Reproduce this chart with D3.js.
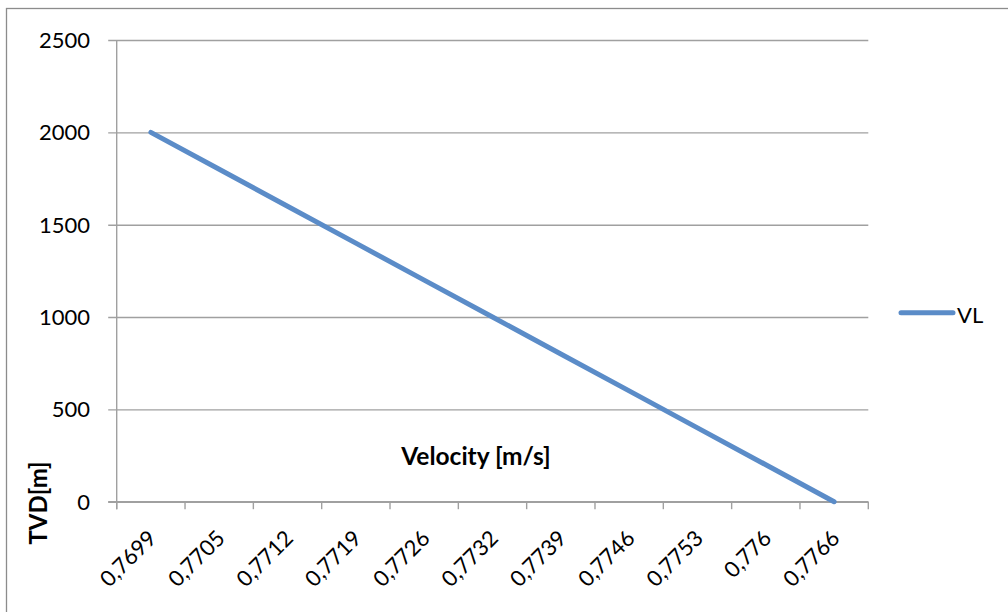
<!DOCTYPE html>
<html>
<head>
<meta charset="utf-8">
<script src="https://cdn.jsdelivr.net/npm/d3@7"></script>
<style>
  html, body { margin: 0; padding: 0; background: #ffffff; }
  svg { display: block; }
  text { font-family: Lato, "Open Sans", sans-serif; fill: #000; }
</style>
</head>
<body>
<svg id="chart" width="1008" height="612"></svg>
<script>
// Velocity categories (m/s) along the horizontal axis
const categories = ["0,7699", "0,7705", "0,7712", "0,7719", "0,7726", "0,7732",
                    "0,7739", "0,7746", "0,7753", "0,776", "0,7766"];
// True vertical depth for each velocity step
const tvd = [2000, 1800, 1600, 1400, 1200, 1000, 800, 600, 400, 200, 0];
// Value axis ticks
const yTicks = [0, 500, 1000, 1500, 2000, 2500];
const seriesName = "VL";
const xTitle = "Velocity [m/s]";
const yTitle = "TVD[m]";

const W = 1008, H = 612;
const plot = { left: 116.7, right: 868.3, top: 40, bottom: 501.7 };
const gridColor = "#a0a0a0";
const lineColor = "#5b8cc8";

const svg = d3.select("#chart");

// outer chart frame (extends past the right and bottom edges)
svg.append("rect")
  .attr("x", 6.5).attr("y", 8.5)
  .attr("width", W + 20).attr("height", H + 20)
  .attr("fill", "#fff")
  .attr("stroke", "#8c8c8c").attr("stroke-width", 1.3);

const x = d3.scaleBand().domain(categories).range([plot.left, plot.right]);
const y = d3.scaleLinear().domain([0, 2500]).range([plot.bottom, plot.top]);

// horizontal gridlines + left ticks
const yAxis = d3.axisLeft(y)
  .tickValues(yTicks)
  .tickSize(-(plot.right - plot.left))
  .tickPadding(0)
  .tickFormat("");
const gy = svg.append("g")
  .attr("transform", `translate(${plot.left},0)`)
  .call(yAxis);
gy.select(".domain").remove();
gy.selectAll(".tick line")
  .attr("x1", -8.5)
  .attr("stroke", gridColor).attr("stroke-width", 1.4);

// value axis labels
svg.append("g").selectAll("text")
  .data(yTicks)
  .join("text")
  .attr("x", 90)
  .attr("y", d => y(d))
  .attr("dy", "0.36em")
  .attr("text-anchor", "end")
  .style("font-size", "22px")
  .text(d => d);

// vertical axis line
svg.append("line")
  .attr("x1", plot.left).attr("x2", plot.left)
  .attr("y1", y(2500)).attr("y2", plot.bottom + 7.5)
  .attr("stroke", gridColor).attr("stroke-width", 1.4);

// category axis: ticks sit between categories
const bounds = categories.map(c => x(c)).concat([plot.right]);
const gx = svg.append("g");
gx.append("line")
  .attr("x1", plot.left - 8.5).attr("x2", plot.right)
  .attr("y1", plot.bottom).attr("y2", plot.bottom)
  .attr("stroke", gridColor).attr("stroke-width", 1.4);
gx.selectAll("line.tk")
  .data(bounds)
  .join("line")
  .attr("class", "tk")
  .attr("x1", d => d).attr("x2", d => d)
  .attr("y1", plot.bottom).attr("y2", plot.bottom + 7.5)
  .attr("stroke", gridColor).attr("stroke-width", 1.4);

// rotated category labels
gx.selectAll("text")
  .data(categories)
  .join("text")
  .attr("text-anchor", "end")
  .attr("transform", d => `translate(${x(d) + x.bandwidth() / 2 + 7},${plot.bottom + 38}) rotate(-45)`)
  .style("font-size", "22px")
  .text(d => d);

// series line
const line = d3.line()
  .x((d, i) => x(categories[i]) + x.bandwidth() / 2)
  .y(d => y(d));
svg.append("path")
  .datum(tvd)
  .attr("d", line)
  .attr("fill", "none")
  .attr("stroke", lineColor)
  .attr("stroke-width", 5)
  .attr("stroke-linecap", "round")
  .attr("stroke-linejoin", "round");

// axis titles
svg.append("text")
  .attr("x", 476).attr("y", 465)
  .attr("text-anchor", "middle")
  .style("font-size", "24.5px").style("font-weight", "bold")
  .text(xTitle);

svg.append("text")
  .attr("transform", `translate(47,503) rotate(-90)`)
  .attr("text-anchor", "middle")
  .style("font-size", "24px").style("font-weight", "bold")
  .text(yTitle);

// legend
const lg = svg.append("g");
lg.append("line")
  .attr("x1", 901).attr("x2", 953)
  .attr("y1", 312.7).attr("y2", 312.7)
  .attr("stroke", lineColor).attr("stroke-width", 5)
  .attr("stroke-linecap", "round");
lg.append("text")
  .attr("x", 957).attr("y", 323)
  .style("font-size", "22px")
  .text(seriesName);
</script>
</body>
</html>
